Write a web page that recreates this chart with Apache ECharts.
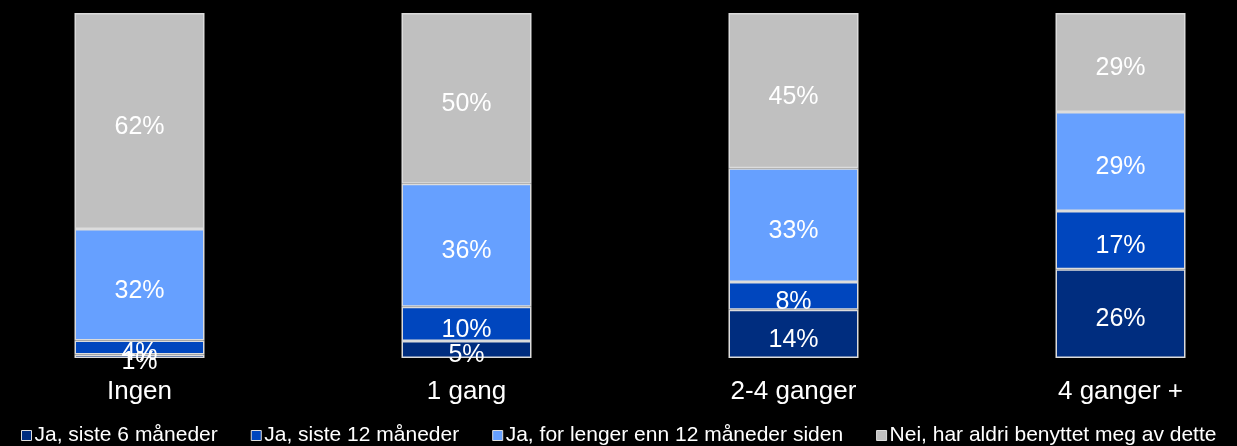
<!DOCTYPE html>
<html>
<head>
<meta charset="utf-8">
<script src="https://cdn.jsdelivr.net/npm/echarts@6/dist/echarts.min.js"></script>
<style>
html,body{margin:0;padding:0;background:#000;}
#c{width:1237px;height:446px;}
</style>
</head>
<body>
<div id="c"></div>
<script>
const categories = ['Ingen', '1 gang', '2-4 ganger', '4 ganger +'];
const seriesNames = ['Ja, siste 6 måneder', 'Ja, siste 12 måneder', 'Ja, for lenger enn 12 måneder siden', 'Nei, har aldri benyttet meg av dette'];
const siste6 = [1, 5, 14, 26];
const siste12 = [4, 10, 8, 17];
const lenger12 = [32, 36, 33, 29];
const aldri = [62, 50, 45, 29];
const colors = ['#002D7F', '#0046BE', '#66A0FF', '#C0C0C0'];

const raw = [siste6, siste12, lenger12, aldri];
const totals = categories.map((_, i) => raw.reduce((s, arr) => s + arr[i], 0));
const FONT = 'Liberation Sans, Arial, sans-serif';

const chart = echarts.init(document.getElementById('c'));
chart.setOption({
  backgroundColor: '#000',
  animation: false,
  textStyle: { fontFamily: FONT },
  grid: { left: -24, right: -47, top: 13, bottom: 88, outerBoundsMode: 'none', containLabel: false },
  xAxis: {
    type: 'category',
    data: categories,
    axisLine: { show: false },
    axisTick: { show: false },
    axisLabel: { color: '#fff', fontSize: 26, margin: 21, fontFamily: FONT }
  },
  yAxis: { type: 'value', min: 0, max: 100, show: false, splitLine: { show: false } },
  legend: {
    left: 16, top: 420,
    itemWidth: 10, itemHeight: 10, itemGap: 33,
    icon: 'rect',
    textStyle: { color: '#fff', fontSize: 21, padding: [0, 0, 0, -2], fontFamily: FONT },
    data: seriesNames.map(n => ({ name: n, itemStyle: { borderColor: '#ddd', borderWidth: 1 } }))
  },
  series: raw.map((arr, si) => ({
    name: seriesNames[si],
    type: 'bar',
    stack: 'total',
    barWidth: 130,
    data: arr.map((v, i) => ({ value: v / totals[i] * 100, raw: v })),
    itemStyle: { color: colors[si], borderColor: '#dcdcdc', borderWidth: 1.5 },
    label: {
      show: true,
      position: 'inside',
      offset: [0, 6],
      color: '#fff',
      fontSize: 25,
      fontFamily: FONT,
      formatter: p => p.data.raw + '%'
    }
  }))
});
</script>
</body>
</html>
